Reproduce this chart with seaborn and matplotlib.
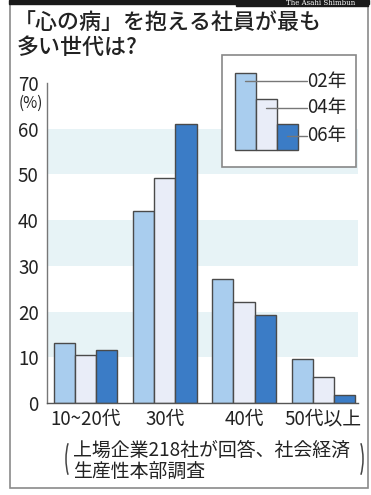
import pandas as pd
import matplotlib.pyplot as plt
import matplotlib.patches as mpatches
import matplotlib.lines as mlines
import seaborn as sns

categories = ["10~20代", "30代", "40代", "50代以上"]
years = ["02年", "04年", "06年"]
v02 = [13.1, 41.9, 27.1, 9.6]
v04 = [10.4, 49.3, 22.0, 5.6]
v06 = [11.5, 61.0, 19.2, 1.8]
yticks = [0, 10, 20, 30, 40, 50, 60, 70]

title1 = "「心の病」を抱える社員が最も"
title2 = "多い世代は?"
note1 = "上場企業218社が回答、社会経済"
note2 = "生産性本部調査"

sns.set_style("white")
plt.rcParams["font.family"] = ["Noto Sans CJK JP", "DejaVu Sans"]

colors = ["#a9cdee", "#e9edf8", "#3b7cc6"]
edge = "#4a4a4a"
text_c = "#222222"

W, H = 371, 495


def fx(x):
    return x / W


def fy(y):
    return 1 - y / H


rows = []
for year, vals in zip(years, [v02, v04, v06]):
    for cat, v in zip(categories, vals):
        rows.append({"age": cat, "year": year, "pct": v})
df = pd.DataFrame(rows)

fig = plt.figure(figsize=(W / 100, H / 100), dpi=100)

# outer frame and top strip
fig.add_artist(mpatches.Rectangle((fx(10), fy(488)), fx(358), (488 - 4) / H,
                                  transform=fig.transFigure, fill=False,
                                  edgecolor="#8a8a8a", linewidth=1.2))
fig.add_artist(mpatches.Rectangle((fx(9), fy(4)), fx(360), 4 / H,
                                  transform=fig.transFigure, color="#1a1a1a"))
fig.add_artist(mpatches.Rectangle((fx(236), fy(6)), fx(132), 6 / H,
                                  transform=fig.transFigure, color="#1a1a1a"))
fig.text(fx(355), fy(3), "The Asahi Shimbun", color="white", fontsize=5,
         ha="right", va="center", family=["DejaVu Serif"])

fig.text(fx(14), fy(22), title1, fontsize=15.8, ha="left", va="center",
         color=text_c, fontweight="medium")
fig.text(fx(17), fy(47), title2, fontsize=15.8, ha="left", va="center",
         color=text_c, fontweight="medium")

ax = fig.add_axes([fx(47), fy(403), (358 - 47) / W, (403 - 83) / H])
for lo, hi in [(10, 20), (30, 40), (50, 60)]:
    ax.axhspan(lo, hi, color="#e7f3f6", zorder=0, linewidth=0)

sns.barplot(data=df, x="age", y="pct", hue="year", hue_order=years,
            order=categories, palette=colors, saturation=1, width=0.8, gap=0,
            edgecolor=edge, linewidth=1, legend=False, ax=ax, zorder=2)

ax.set_xlim(-0.49, 3.44)
ax.set_ylim(0, 70)
ax.set_yticks(yticks)
ax.set_yticklabels([str(t) for t in yticks])
ax.set_xlabel("")
ax.set_ylabel("")
ax.tick_params(axis="y", direction="in", length=4, width=1, color="#666666",
               labelsize=13.5, labelcolor=text_c, pad=6)
ax.tick_params(axis="x", length=0, labelsize=13.5, labelcolor=text_c, pad=4)
for s in ["top", "right"]:
    ax.spines[s].set_visible(False)
ax.spines["left"].set_color("#777777")
ax.spines["bottom"].set_color("#555555")
ax.spines["left"].set_linewidth(1)
ax.spines["bottom"].set_linewidth(1)
ax.patch.set_alpha(0)

fig.text(fx(31), fy(103), "(%)", fontsize=11, ha="center", va="center",
         color=text_c)

# source note with big parentheses
fig.text(fx(73), fy(450), note1, fontsize=13.6, ha="left", va="center", color=text_c)
fig.text(fx(73), fy(471), note2, fontsize=13.6, ha="left", va="center", color=text_c)
fig.add_artist(mpatches.Arc((fx(78), fy(459)), 24 / W, 56 / H, theta1=130, theta2=230,
                            transform=fig.transFigure, color="#444444", linewidth=1.1))
fig.add_artist(mpatches.Arc((fx(351), fy(459)), 24 / W, 56 / H, theta1=-50, theta2=50,
                            transform=fig.transFigure, color="#444444", linewidth=1.1))

# legend drawn as a miniature bar chart
fig.add_artist(mpatches.Rectangle((fx(222), fy(167)), (356 - 222) / W, (167 - 55) / H,
                                  transform=fig.transFigure, facecolor="white",
                                  edgecolor="#888888", linewidth=1.2))
leg_x = [235, 256, 277]
leg_top = [73, 99, 124]
leg_y = [81, 108, 136]
for i, year in enumerate(years):
    fig.add_artist(mpatches.Rectangle((fx(leg_x[i]), fy(150)), 21 / W, (150 - leg_top[i]) / H,
                                      transform=fig.transFigure, facecolor=colors[i],
                                      edgecolor=edge, linewidth=1))
for i, year in enumerate(years):
    fig.add_artist(mlines.Line2D([fx(leg_x[i] + 10), fx(307)], [fy(leg_y[i])] * 2,
                                 transform=fig.transFigure, color="#777777", linewidth=1))
    fig.text(fx(307), fy(leg_y[i]), year, fontsize=13.5, ha="left", va="center",
             color=text_c)

fig.savefig("out.png", dpi=100)
